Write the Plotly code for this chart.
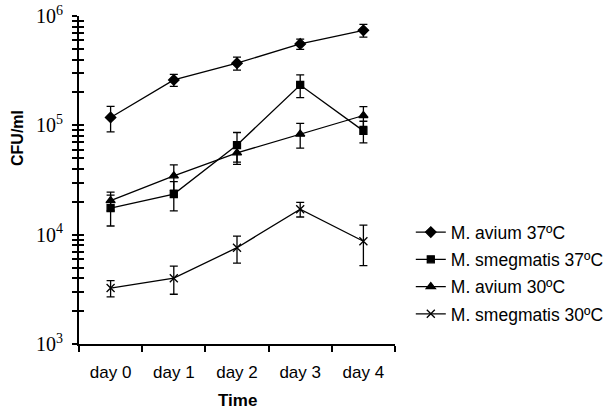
import plotly.graph_objects as go

days = ["day 0", "day 1", "day 2", "day 3", "day 4"]
series_names = ["M. avium 37ºC", "M. smegmatis 37ºC", "M. avium 30ºC", "M. smegmatis 30ºC"]
avium37 = [118000, 260000, 370000, 555000, 740000]
avium37_err = [31000, 33000, 50000, 60000, 100000]
smeg37 = [17500, 23500, 66000, 234000, 89000]
smeg37_err = [5500, 7000, 20000, 55000, 20000]
avium30 = [20500, 34500, 56000, 83000, 123000]
avium30_err = [4000, 9000, 12000, 21000, 25000]
smeg30 = [3250, 4000, 7600, 17100, 8700]
smeg30_err = [550, 1150, 2100, 2600, 3500]
ytick_vals = [1e3, 1e4, 1e5, 1e6]
ytick_text = ["10<sup>3</sup>", "10<sup>4</sup>", "10<sup>5</sup>", "10<sup>6</sup>"]

values = [avium37, smeg37, avium30, smeg30]
errors = [avium37_err, smeg37_err, avium30_err, smeg30_err]
symbols = ["diamond", "square", "triangle-up", "x-thin"]
sizes = [8, 7, 8, 8]

L, R, T, B = 79, 215, 16, 66
pw, ph = 610 - L - R, 410 - T - B

fig = go.Figure()
for i, (name, v, e, s, sz) in enumerate(zip(series_names, values, errors, symbols, sizes)):
    fig.add_trace(go.Scatter(
        x=days, y=v, name=name, mode="lines+markers", legendgroup=str(i),
        line=dict(color="black", width=1.3),
        marker=dict(symbol=s, size=sz, color="black", line=dict(color="black", width=1.3)),
        error_y=dict(type="data", array=e, visible=True, color="black", thickness=1.3, width=4),
    ))

# overlay axis to draw the inside half of the crossing y ticks
fig.add_trace(go.Scatter(x=[None], y=[None], yaxis="y2", showlegend=False, hoverinfo="skip"))

fig.update_layout(
    width=610, height=410,
    margin=dict(l=L, r=R, t=T, b=B, autoexpand=False),
    paper_bgcolor="white", plot_bgcolor="white",
    font=dict(family="Liberation Sans, Arial", color="black", size=13),
    showlegend=True,
    legend=dict(x=1.050, y=0.216, xanchor="left", yanchor="middle",
                font=dict(size=17.5), tracegroupgap=1.5, traceorder="grouped",
                bgcolor="rgba(0,0,0,0)", itemwidth=30),
    xaxis=dict(
        type="category", range=[-0.5, 4.5], tickson="boundaries",
        ticks="outside", ticklen=6, tickwidth=2, tickcolor="black",
        showline=True, linecolor="black", linewidth=2, showgrid=False, zeroline=False,
        tickfont=dict(size=17), fixedrange=True, automargin=False, ticklabelstandoff=12,
    ),
    yaxis=dict(
        type="log", range=[3, 6], tickvals=ytick_vals, ticktext=ytick_text,
        ticks="outside", ticklen=5, tickwidth=2, tickcolor="black",
        minor=dict(ticks="outside", ticklen=5, tickwidth=2, tickcolor="black", dtick="D1", showgrid=False),
        showline=True, linecolor="black", linewidth=2, showgrid=False, zeroline=False,
        tickfont=dict(family="Liberation Serif, Times New Roman", size=20),
        automargin=False, ticklabelstandoff=5,
    ),
    yaxis2=dict(
        type="log", range=[3, 6], overlaying="y", side="left",
        tickvals=ytick_vals, showticklabels=False,
        ticks="inside", ticklen=5, tickwidth=2, tickcolor="black",
        minor=dict(ticks="inside", ticklen=5, tickwidth=2, tickcolor="black", dtick="D1", showgrid=False),
        showline=False, showgrid=False, zeroline=False, automargin=False,
    ),
    annotations=[
        dict(text="<b>CFU/ml</b>", x=(17 - L) / pw, y=1 - (138 - T) / ph,
             xref="paper", yref="paper", xanchor="center", yanchor="middle",
             showarrow=False, textangle=-90, font=dict(size=16)),
        dict(text="<b>Time</b>", x=(237 - L) / pw, y=1 - (400 - T) / ph,
             xref="paper", yref="paper", xanchor="center", yanchor="middle",
             showarrow=False, font=dict(size=17)),
    ],
)

fig.write_html("out.html", config={"displayModeBar": False},
               post_script="document.body.style.margin='0';")
